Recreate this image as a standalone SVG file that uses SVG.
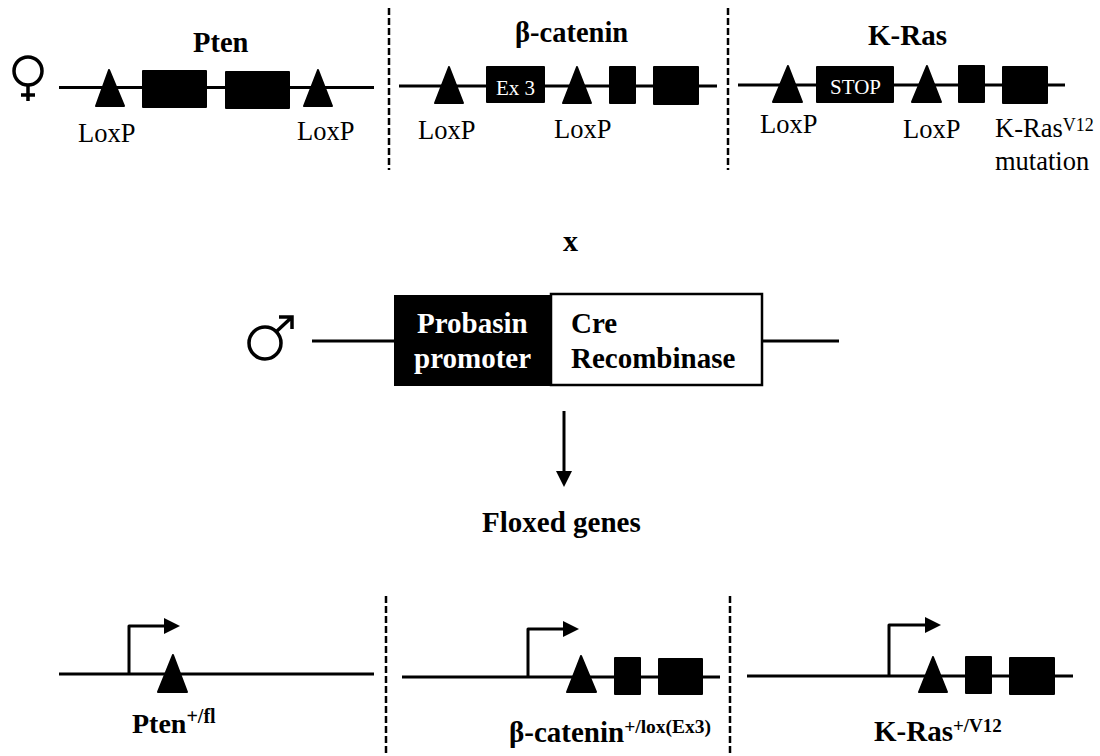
<svg xmlns="http://www.w3.org/2000/svg" width="1100" height="756" viewBox="0 0 1100 756">
<defs>
<style>
text{font-family:"Liberation Serif","Times New Roman",serif;fill:#000}
.b{font-weight:bold}
.t{font-size:28.5px}
.p{font-size:29px}
.l{font-size:26.5px}
.s{font-size:19px}
.w{fill:#fff}
.g{stroke:#000;stroke-width:3;fill:none}
.y{stroke:#000;stroke-width:3.5;fill:none}
.d{stroke:#000;stroke-width:2.5;fill:none;stroke-dasharray:7 3}
.e{fill:#000;stroke:#000;stroke-width:2;stroke-linejoin:round}
.a{stroke:#000;stroke-width:3;fill:none;stroke-linejoin:round}
</style>
<marker id="h" markerUnits="userSpaceOnUse" markerWidth="17" markerHeight="17" refX="2" refY="8" orient="auto"><path d="M0 0L16 8L0 16Z" fill="#000"/></marker>
</defs>
<rect width="1100" height="756" fill="#fff"/>
<g id="connectors">
<path class="d" d="M389 8V170M728 8V170M386 596V756M730 596V756"/>
<path class="g" d="M59 87.5H374M399 86H717M738 85H1065M312 341H394M762 341H839M59 674H374M402 677H720M747 676H1073"/>
<path class="a" d="M564 411V473" marker-end="url(#h)"/>
<path class="a" d="M129 673V626H166" marker-end="url(#h)"/>
<path class="a" d="M528 676V629H565" marker-end="url(#h)"/>
<path class="a" d="M889 675V625H927" marker-end="url(#h)"/>
</g>
<g id="female" class="y"><circle cx="28" cy="71" r="14"/><path d="M28 85V101M21 95H35"/></g>
<g id="pten-top">
<text class="b t" x="193" y="52">Pten</text>
<path class="e" d="M109 70L96 106H124Z"/><rect class="e" x="143" y="71" width="63" height="36"/><rect class="e" x="226" y="72" width="63" height="36"/><path class="e" d="M318 70L304 106H332Z"/>
<text class="l" x="78" y="142">LoxP</text><text class="l" x="297" y="140">LoxP</text>
</g>
<g id="catenin-top">
<text class="b t" x="515" y="42">β-catenin</text>
<path class="e" d="M449 67L435 103H463Z"/><rect class="e" x="487" y="67" width="57" height="35"/><path class="e" d="M577 67L563 103H591Z"/><rect class="e" x="610" y="67" width="25" height="36"/><rect class="e" x="654" y="67" width="44" height="37"/>
<text class="w" x="496" y="95" font-size="21">Ex 3</text>
<text class="l" x="418" y="139">LoxP</text><text class="l" x="554" y="138">LoxP</text>
</g>
<g id="kras-top">
<text class="b" x="868" y="45" font-size="29">K-Ras</text>
<path class="e" d="M788 66L773 102H802Z"/><rect class="e" x="817" y="67" width="76" height="35"/><path class="e" d="M927 66L912 102H941Z"/><rect class="e" x="959" y="66" width="25" height="36"/><rect class="e" x="1003" y="67" width="44" height="36"/>
<text class="w" x="830" y="94" font-size="21">STOP</text>
<text class="l" x="760" y="133">LoxP</text><text class="l" x="903" y="138">LoxP</text>
<text x="995" y="137" font-size="26.5">K-Ras<tspan font-size="18" dy="-6">V12</tspan></text>
<text x="995" y="170" font-size="26.5">mutation</text>
</g>
<text id="cross" class="b" x="563" y="251" font-size="30">x</text>
<g id="male" class="y"><circle cx="265" cy="343" r="16"/><path d="M277 331L292 317M279 317H292V329"/></g>
<g id="probasin"><rect x="394" y="295" width="157" height="91" fill="#000"/>
<text class="b p w" x="417" y="333">Probasin</text><text class="b p w" x="414" y="368">promoter</text></g>
<g id="cre"><rect x="551" y="294" width="211" height="91" fill="#fff" stroke="#000" stroke-width="2.5"/>
<text class="b p" x="571" y="333">Cre</text><text class="b p" x="571" y="368">Recombinase</text></g>
<text id="floxed" class="b p" x="482" y="532">Floxed genes</text>
<g id="pten-bottom"><path class="e" d="M173 655L158 692H187Z"/>
<text class="b" x="132" y="733" font-size="28">Pten<tspan font-size="20" dy="-10">+/fl</tspan></text></g>
<g id="catenin-bottom"><path class="e" d="M581 656L567 692H596Z"/><rect class="e" x="615" y="658" width="25" height="36"/><rect class="e" x="659" y="659" width="43" height="35"/>
<text class="b" x="509" y="742" font-size="29">β-catenin<tspan font-size="19.5" dy="-9">+/lox(Ex3)</tspan></text></g>
<g id="kras-bottom"><path class="e" d="M933 657L919 692H947Z"/><rect class="e" x="966" y="657" width="25" height="36"/><rect class="e" x="1010" y="658" width="44" height="36"/>
<text class="b p" x="874" y="741">K-Ras<tspan class="s" dy="-9">+/V12</tspan></text></g>
</svg>
